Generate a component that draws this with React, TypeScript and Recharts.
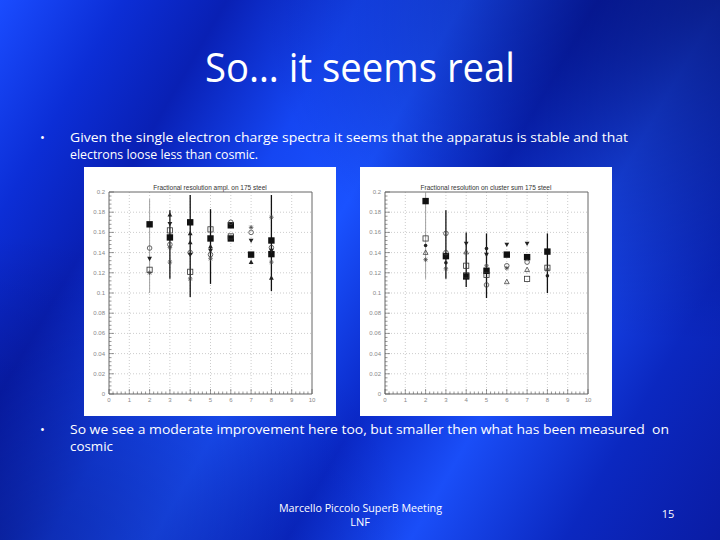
import React from "react";
import { ScatterChart, Scatter, XAxis, YAxis, ReferenceLine, ErrorBar } from "recharts";

const xMajorTicks = [0, 1, 2, 3, 4, 5, 6, 7, 8, 9, 10];
const xTickLabels = ["0", "1", "2", "3", "4", "5", "6", "7", "8", "9", "10"];
const yMajorTicks = [0, 0.02, 0.04, 0.06, 0.08, 0.1, 0.12, 0.14, 0.16, 0.18, 0.2];
const yTickLabels = ["0", "0.02", "0.04", "0.06", "0.08", "0.1", "0.12", "0.14", "0.16", "0.18", "0.2"];

// left plot: amplitude resolution
const ampGreyX = [2];
const ampGreyY = [0.168];
const ampGreyLow = [0.068];
const ampGreyHigh = [0.025];
const ampErrX = [3, 4, 5, 8];
const ampErrY = [0.155, 0.17, 0.154, 0.1385];
const ampErrLow = [0.041, 0.074, 0.045, 0.0365];
const ampErrHigh = [0.027, 0.027, 0.029, 0.0585];
const ampSqX = [6, 6, 7, 8];
const ampSqY = [0.154, 0.167, 0.138, 0.152];
const ampCircX = [2, 3, 4, 5, 6, 7, 8];
const ampCircY = [0.1445, 0.148, 0.14, 0.138, 0.17, 0.16, 0.145];
const ampTriUpX = [3, 4, 4, 5, 7, 8];
const ampTriUpY = [0.1775, 0.159, 0.15, 0.146, 0.1306, 0.115];
const ampTriDownX = [2, 3, 4, 5, 7, 8];
const ampTriDownY = [0.134, 0.1686, 0.138, 0.142, 0.152, 0.142];
const ampSqOpenX = [2, 3, 4, 5, 6];
const ampSqOpenY = [0.123, 0.162, 0.121, 0.163, 0.156];
const ampStarX = [2, 3, 3, 4, 5, 7, 8, 8];
const ampStarY = [0.12, 0.1306, 0.145, 0.114, 0.134, 0.165, 0.1306, 0.175];

// right plot: cluster resolution
const cluGreyX = [2];
const cluGreyY = [0.191];
const cluGreyLow = [0.077];
const cluGreyHigh = [0.009];
const cluErrX = [3, 4, 5, 8];
const cluErrY = [0.1365, 0.1164, 0.122, 0.141];
const cluErrLow = [0.0225, 0.0104, 0.027, 0.041];
const cluErrHigh = [0.0455, 0.0436, 0.037, 0.018];
const cluSqX = [6, 7];
const cluSqY = [0.138, 0.1355];
const cluSqOpenX = [2, 4, 4, 5, 7, 8];
const cluSqOpenY = [0.154, 0.127, 0.1175, 0.118, 0.114, 0.125];
const cluTriDownX = [4, 5, 6, 7];
const cluTriDownY = [0.149, 0.138, 0.148, 0.149];
const cluTriUpX = [2, 4, 6, 7];
const cluTriUpY = [0.14, 0.1405, 0.111, 0.123];
const cluDotX = [2, 3, 5, 8];
const cluDotY = [0.147, 0.13, 0.144, 0.117];
const cluCircX = [3, 3, 5, 6, 7];
const cluCircY = [0.159, 0.14, 0.108, 0.127, 0.1306];
const cluStarX = [2, 3, 5, 6, 8];
const cluStarY = [0.133, 0.124, 0.127, 0.1246, 0.123];

type Kind = "sq" | "sqOpen" | "circ" | "dot" | "triUp" | "triUpOpen" | "triDown" | "star";

function toPoints(xs: number[], ys: number[], low?: number[], high?: number[]) {
  return xs.map((x, i) => ({ x, y: ys[i], err: low && high ? [low[i], high[i]] : undefined }));
}

function Marker({ cx, cy, kind }: { cx?: number; cy?: number; kind: Kind }) {
  if (cx == null || cy == null) return null;
  const c = "#111";
  switch (kind) {
    case "sq":
      return <rect x={cx - 3.2} y={cy - 3.2} width={6.4} height={6.4} fill={c} />;
    case "sqOpen":
      return <rect x={cx - 2.6} y={cy - 2.6} width={5.2} height={5.2} fill="none" stroke="#333" strokeWidth={0.8} />;
    case "circ":
      return <circle cx={cx} cy={cy} r={2.3} fill="none" stroke="#444" strokeWidth={0.8} />;
    case "dot":
      return <circle cx={cx} cy={cy} r={1.8} fill="#222" />;
    case "triUp":
      return <path d={`M${cx},${cy - 2.6}L${cx + 2.4},${cy + 1.8}L${cx - 2.4},${cy + 1.8}Z`} fill="#222" />;
    case "triUpOpen":
      return <path d={`M${cx},${cy - 2.6}L${cx + 2.4},${cy + 1.8}L${cx - 2.4},${cy + 1.8}Z`} fill="none" stroke="#444" strokeWidth={0.8} />;
    case "triDown":
      return <path d={`M${cx},${cy + 2.6}L${cx + 2.4},${cy - 1.8}L${cx - 2.4},${cy - 1.8}Z`} fill="#222" />;
    case "star":
      return (
        <path
          d={`M${cx - 2.3},${cy}L${cx + 2.3},${cy}M${cx},${cy - 2.3}L${cx},${cy + 2.3}M${cx - 1.7},${cy - 1.7}L${cx + 1.7},${cy + 1.7}M${cx - 1.7},${cy + 1.7}L${cx + 1.7},${cy - 1.7}`}
          stroke="#444"
          strokeWidth={0.7}
        />
      );
  }
  return null;
}

const xTicks: number[] = [];
for (let i = 0; i <= 50; i++) xTicks.push(Math.round(i * 0.2 * 1000) / 1000);
const yTicks: number[] = [];
for (let i = 0; i <= 50; i++) yTicks.push(Math.round(i * 0.004 * 10000) / 10000);

function XTick(props: any) {
  const { x, y, payload } = props;
  const idx = xMajorTicks.findIndex((t) => Math.abs(t - payload.value) < 1e-6);
  const major = idx >= 0;
  return (
    <g>
      <line x1={x} x2={x} y1={y} y2={y - (major ? 5 : 2.5)} stroke="#555" strokeWidth={0.6} />
      {major && (
        <text x={x} y={y + 8} textAnchor="middle" fontSize={6} fill="#888" fontFamily="Liberation Sans, sans-serif">
          {xTickLabels[idx]}
        </text>
      )}
    </g>
  );
}

function YTick(props: any) {
  const { x, y, payload } = props;
  const idx = yMajorTicks.findIndex((t) => Math.abs(t - payload.value) < 1e-6);
  const major = idx >= 0;
  return (
    <g>
      <line x1={x} x2={x + (major ? 5 : 2.5)} y1={y} y2={y} stroke="#555" strokeWidth={0.6} />
      {major && (
        <text x={x - 4} y={y + 2} textAnchor="end" fontSize={6} fill="#888" fontFamily="Liberation Sans, sans-serif">
          {yTickLabels[idx]}
        </text>
      )}
    </g>
  );
}

type SeriesDef = {
  name: string;
  kind: Kind;
  data: { x: number; y: number; err?: number[] }[];
  errColor?: string;
  errWidth?: number;
};

function ResolutionChart({ left, title, series }: { left: number; title: string; series: SeriesDef[] }) {
  return (
    <div style={{ position: "absolute", left, top: 167, width: 252, height: 249, background: "#fff" }}>
      <div
        style={{
          position: "absolute",
          top: 17,
          left: 0,
          width: "100%",
          textAlign: "center",
          fontSize: 6.5,
          color: "#333",
          fontFamily: "Liberation Sans, sans-serif",
        }}
      >
        {title}
      </div>
      <ScatterChart width={252} height={249} margin={{ top: 25, right: 24, bottom: 0, left: 0 }}>
        <XAxis
          type="number"
          dataKey="x"
          domain={[0, 10]}
          ticks={xTicks}
          interval={0}
          tickSize={0}
          tickMargin={0}
          tickLine={false}
          tick={(p: any) => <XTick {...p} />}
          height={22}
          stroke="#666"
          allowDataOverflow
        />
        <YAxis
          type="number"
          dataKey="y"
          domain={[0, 0.2]}
          ticks={yTicks}
          interval={0}
          tickSize={0}
          tickMargin={0}
          tickLine={false}
          tick={(p: any) => <YTick {...p} />}
          width={25}
          stroke="#666"
          allowDataOverflow
        />
        {xMajorTicks.slice(1, -1).map((v) => (
          <ReferenceLine key={"gx" + v} x={v} stroke="#aaa" strokeWidth={0.6} strokeDasharray="1 2" />
        ))}
        {yMajorTicks.slice(1, -1).map((v) => (
          <ReferenceLine key={"gy" + v} y={v} stroke="#aaa" strokeWidth={0.6} strokeDasharray="1 2" />
        ))}
        <ReferenceLine x={10} stroke="#666" strokeWidth={1} />
        <ReferenceLine y={0.2} stroke="#666" strokeWidth={1} />
        {series.map((s) => (
          <Scatter
            key={s.name}
            name={s.name}
            data={s.data}
            isAnimationActive={false}
            shape={(p: any) => <Marker cx={p.cx} cy={p.cy} kind={s.kind} />}
          >
            {s.errColor && (
              <ErrorBar dataKey="err" direction="y" width={0} stroke={s.errColor} strokeWidth={s.errWidth ?? 1.3} />
            )}
          </Scatter>
        ))}
      </ScatterChart>
    </div>
  );
}

const ampSeries: SeriesDef[] = [
  { name: "greySq", kind: "sq", data: toPoints(ampGreyX, ampGreyY, ampGreyLow, ampGreyHigh), errColor: "#999", errWidth: 0.9 },
  { name: "errSq", kind: "sq", data: toPoints(ampErrX, ampErrY, ampErrLow, ampErrHigh), errColor: "#111" },
  { name: "sq", kind: "sq", data: toPoints(ampSqX, ampSqY) },
  { name: "circ", kind: "circ", data: toPoints(ampCircX, ampCircY) },
  { name: "triUp", kind: "triUp", data: toPoints(ampTriUpX, ampTriUpY) },
  { name: "triDown", kind: "triDown", data: toPoints(ampTriDownX, ampTriDownY) },
  { name: "sqOpen", kind: "sqOpen", data: toPoints(ampSqOpenX, ampSqOpenY) },
  { name: "star", kind: "star", data: toPoints(ampStarX, ampStarY) },
];

const cluSeries: SeriesDef[] = [
  { name: "greySq", kind: "sq", data: toPoints(cluGreyX, cluGreyY, cluGreyLow, cluGreyHigh), errColor: "#999", errWidth: 0.9 },
  { name: "errSq", kind: "sq", data: toPoints(cluErrX, cluErrY, cluErrLow, cluErrHigh), errColor: "#111" },
  { name: "sq", kind: "sq", data: toPoints(cluSqX, cluSqY) },
  { name: "sqOpen", kind: "sqOpen", data: toPoints(cluSqOpenX, cluSqOpenY) },
  { name: "triDown", kind: "triDown", data: toPoints(cluTriDownX, cluTriDownY) },
  { name: "triUpOpen", kind: "triUpOpen", data: toPoints(cluTriUpX, cluTriUpY) },
  { name: "dot", kind: "dot", data: toPoints(cluDotX, cluDotY) },
  { name: "circ", kind: "circ", data: toPoints(cluCircX, cluCircY) },
  { name: "star", kind: "star", data: toPoints(cluStarX, cluStarY) },
];

const slideFont = "'Open Sans', 'Liberation Sans', sans-serif";

export default function App() {
  return (
    <div
      style={{
        position: "fixed",
        left: 0,
        top: 0,
        width: 720,
        height: 540,
        overflow: "hidden",
        background:
          "radial-gradient(ellipse at 100% 0%, rgba(0,0,70,0.6), rgba(0,0,70,0) 45%), radial-gradient(ellipse at 0% 100%, rgba(0,0,70,0.4), rgba(0,0,70,0) 40%), linear-gradient(120deg, #1a4cff 0%, #0c2ed6 12%, #0920b4 22%, #1546f2 35%, #1a52ff 45%, #0a29c8 58%, #1a4ef8 70%, #0b28c0 85%, #0a1ca4 100%)",
      }}
    >
      <svg width={720} height={540} style={{ position: "absolute", left: 0, top: 0 }}>
        <g fill="#fff" fontFamily={slideFont}>
          <text x={205} y={82} fontSize={40} textLength={310} lengthAdjust="spacingAndGlyphs">
            So… it seems real
          </text>
          <text x={40} y={142} fontSize={13}>•</text>
          <text x={70} y={142} fontSize={13} textLength={558} lengthAdjust="spacingAndGlyphs">
            Given the single electron charge spectra it seems that the apparatus is stable and that
          </text>
          <text x={70} y={159} fontSize={13} textLength={188} lengthAdjust="spacingAndGlyphs">
            electrons loose less than cosmic.
          </text>
          <text x={40} y={434} fontSize={13}>•</text>
          <text x={70} y={434} fontSize={13} textLength={599} lengthAdjust="spacingAndGlyphs" xmlSpace="preserve">
            So we see a moderate improvement here too, but smaller then what has been measured  on
          </text>
          <text x={70} y={451} fontSize={13} textLength={43} lengthAdjust="spacingAndGlyphs">
            cosmic
          </text>
          <text x={279} y={512} fontSize={11} textLength={163} lengthAdjust="spacingAndGlyphs">
            Marcello Piccolo SuperB Meeting
          </text>
          <text x={360} y={526} fontSize={11} textAnchor="middle">
            LNF
          </text>
          <text x={668} y={518} fontSize={11} textAnchor="middle">
            15
          </text>
        </g>
      </svg>
      <ResolutionChart left={84} title="Fractional resolution ampl. on 175 steel" series={ampSeries} />
      <ResolutionChart left={360} title="Fractional resolution on cluster sum 175 steel" series={cluSeries} />
    </div>
  );
}
